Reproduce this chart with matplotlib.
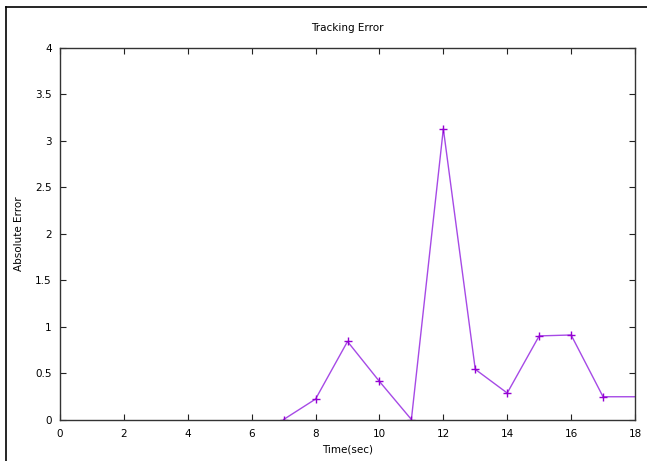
import matplotlib
matplotlib.use("Agg")
import matplotlib.pyplot as plt
from matplotlib.lines import Line2D
from matplotlib.ticker import FuncFormatter

# tracking error samples
time_sec = [7, 8, 9, 10, 11, 12, 13, 14, 15, 16, 17, 18]
abs_error = [0.0, 0.22, 0.84, 0.41, 0.0, 3.13, 0.54, 0.285, 0.90, 0.91, 0.245, 0.245]

x_ticks = [0, 2, 4, 6, 8, 10, 12, 14, 16, 18]
y_ticks = [0, 0.5, 1, 1.5, 2, 2.5, 3, 3.5, 4]

plt.rcParams['font.family'] = ['DejaVu Sans']
plt.rcParams['font.size'] = 7.5

fig = plt.figure(figsize=(6.47, 4.61), dpi=100)
ax = fig.add_axes([60 / 647, 1 - 419.5 / 461, 575 / 647, 371.5 / 461])

ax.plot(time_sec, abs_error, color='#a64ae6', linewidth=1.0,
        marker='+', markersize=5.5, markeredgewidth=1.0,
        markeredgecolor='#9400d3', markevery=slice(0, -1))

ax.set_xlim(0, 18)
ax.set_ylim(0, 4)
ax.set_xticks(x_ticks)
ax.set_yticks(y_ticks)
ax.yaxis.set_major_formatter(FuncFormatter(lambda v, p: ('%g' % v)))
ax.tick_params(direction='in', length=4, width=0.8, top=True, right=True,
               colors='#222222', labelcolor='black')
ax.tick_params(axis='x', pad=7)
ax.tick_params(axis='y', pad=6)
for s in ax.spines.values():
    s.set_linewidth(1.0)
    s.set_color('#333333')

ax.set_title('Tracking Error', fontsize=7.5, pad=12)
ax.set_xlabel('Time(sec)', fontsize=7.5, labelpad=4)
ax.set_ylabel('Absolute Error', fontsize=7.5, labelpad=8)

# window frame lines from the screenshot
fig.add_artist(Line2D([6 / 647, 1], [1 - 7 / 461, 1 - 7 / 461], color='black', linewidth=1.2))
fig.add_artist(Line2D([6 / 647, 6 / 647], [0, 1 - 7 / 461], color='black', linewidth=1.2))

fig.savefig("out.png", dpi=100)
